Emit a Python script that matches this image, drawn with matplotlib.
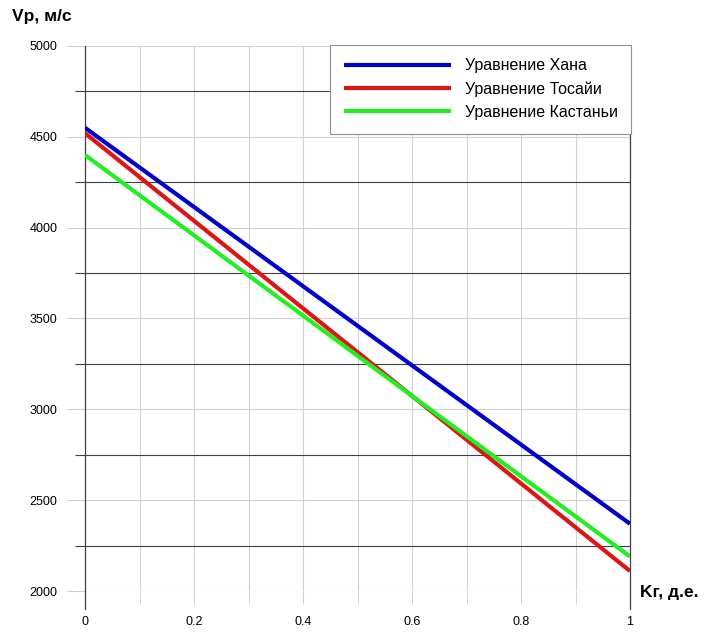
import matplotlib.pyplot as plt
import numpy as np

plt.rcParams['font.family'] = ['Liberation Sans', 'DejaVu Sans']

# clay content, fractions
kg = [0, 1]

# P-wave velocity, m/s
v_han = [4550, 2370]
v_tosaya = [4520, 2110]
v_castagna = [4400, 2190]

labels = ['Уравнение Хана', 'Уравнение Тосайи', 'Уравнение Кастаньи']
colors = ['#0000cc', '#dd1515', '#22ee22']

x_ticks = [0, 0.2, 0.4, 0.6, 0.8, 1]
x_ticklabels = ['0', '0.2', '0.4', '0.6', '0.8', '1']
y_ticks = [2000, 2500, 3000, 3500, 4000, 4500, 5000]

fig = plt.figure(figsize=(7.04, 6.32), dpi=100)
ax = fig.add_axes([85 / 704, 1 - 591 / 632, 545 / 704, 545 / 632])

for v, lab, c in zip([v_han, v_tosaya, v_castagna], labels, colors):
    ax.plot(kg, v, color=c, lw=3, label=lab, solid_capstyle='butt', zorder=3)

ax.set_xlim(0, 1)
ax.set_ylim(2000, 5000)
for s in ax.spines.values():
    s.set_visible(False)

# major grid light, minor horizontal grid dark
ax.set_xticks(x_ticks)
ax.set_xticklabels(x_ticklabels)
ax.set_xticks(np.arange(0.1, 1.0, 0.2), minor=True)
ax.set_yticks(y_ticks)
ax.set_yticks(np.arange(2250, 5000, 500), minor=True)
ax.grid(True, which='major', color='#d0d0d0', lw=0.8)
ax.grid(True, which='minor', axis='x', color='#d0d0d0', lw=0.8)
ax.grid(True, which='minor', axis='y', color='#404040', lw=0.8)
ax.tick_params(axis='y', which='major', length=13, color='#d0d0d0', pad=7, labelsize=9)
ax.tick_params(axis='y', which='minor', length=7, color='#404040', width=0.8)
ax.tick_params(axis='x', which='both', length=9, color='#d0d0d0', pad=9, labelsize=9)

# darker verticals at x=0 and x=1
for xv in (0, 1):
    ax.axvline(xv, ymin=-0.033, ymax=1, color='#404040', lw=0.9, clip_on=False, zorder=2)

leg = ax.legend(loc='upper right', bbox_to_anchor=(1.002, 1.002), borderaxespad=0,
                fontsize=11.5, handlelength=6.7, handletextpad=0.85, labelspacing=0.5,
                borderpad=0.85, fancybox=False, framealpha=1, edgecolor='#909090')
leg.get_frame().set_linewidth(0.8)

fig.text(12 / 704, 1 - 17 / 632, 'Vp, м/с', fontsize=12.5, fontweight='bold', va='center')
fig.text(640 / 704, 1 - 592 / 632, 'Kг, д.е.', fontsize=12.5, fontweight='bold', va='center')

fig.savefig('out.png', dpi=100)
